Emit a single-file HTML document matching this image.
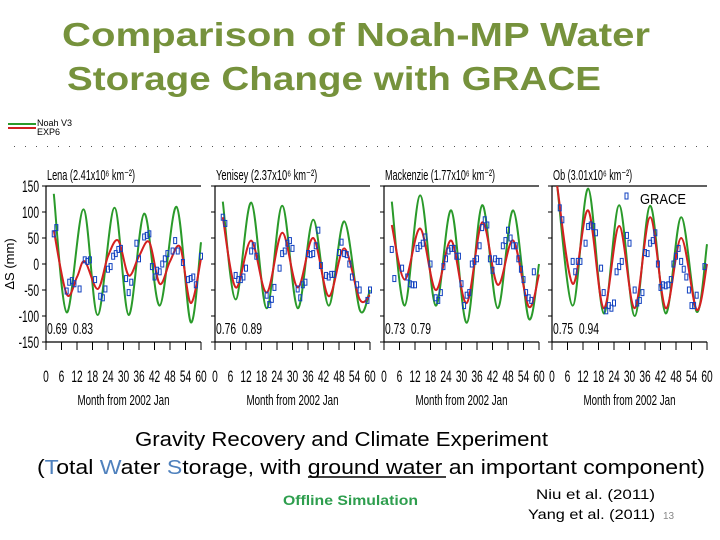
<!DOCTYPE html>
<html><head><meta charset="utf-8"><style>
html,body{margin:0;padding:0;background:#fff;width:720px;height:540px;overflow:hidden}
svg{display:block}
</style></head><body>
<svg id="s" width="720" height="540" xmlns="http://www.w3.org/2000/svg">
<g font-family="'Liberation Sans',sans-serif" font-weight="bold" fill="#76923c" font-size="33">
<text x="62" y="46" textLength="588" lengthAdjust="spacingAndGlyphs">Comparison of Noah-MP Water</text>
<text x="67" y="90" textLength="534" lengthAdjust="spacingAndGlyphs">Storage Change with GRACE</text>
</g>
<g>
<line x1="8" y1="124" x2="36" y2="124" stroke="#2a9a2a" stroke-width="2"/>
<line x1="8" y1="128" x2="36" y2="128" stroke="#d02020" stroke-width="2"/>
<text x="37" y="126" font-family="'Liberation Sans',sans-serif" font-size="9">Noah V3</text>
<text x="37" y="135" font-family="'Liberation Sans',sans-serif" font-size="9">EXP6</text>
</g>
<g id="charts"></g>
<g font-family="'Liberation Sans',sans-serif">
<text x="135" y="446" font-size="20" textLength="413" lengthAdjust="spacingAndGlyphs">Gravity Recovery and Climate Experiment</text>
<text x="37" y="474" font-size="20" textLength="668" lengthAdjust="spacingAndGlyphs">(<tspan fill="#4f81bd">T</tspan>otal <tspan fill="#4f81bd">W</tspan>ater <tspan fill="#4f81bd">S</tspan>torage, with ground water an important component)</text>
<line x1="308" y1="477" x2="446" y2="477" stroke="#000" stroke-width="1.5"/>
<text x="283" y="505" font-size="14" font-weight="bold" fill="#2e9e4e" textLength="135" lengthAdjust="spacingAndGlyphs">Offline Simulation</text>
<text x="536" y="499" font-size="14" textLength="119" lengthAdjust="spacingAndGlyphs">Niu et al. (2011)</text>
<text x="528" y="519" font-size="14" textLength="127" lengthAdjust="spacingAndGlyphs">Yang et al. (2011)</text>
<text x="663" y="519" font-size="10" fill="#888">13</text>
</g>
</svg>
<script>
const basinNames = ["Lena (2.41x10⁶ km⁻²)","Yenisey (2.37x10⁶ km⁻²)","Mackenzie (1.77x10⁶ km⁻²)","Ob (3.01x10⁶ km⁻²)"];
const corrLabels = ["0.69  0.83","0.76  0.89","0.73  0.79","0.75  0.94"];
const yTicks = [150,100,50,0,-50,-100,-150];
const xTicks = [0,6,12,18,24,30,36,42,48,54,60];
const noahMonths = [[3,8,14.5,20,26.5,32,38,44,50.5,56,60],[3,8,14,20,26,32,38,44,50,56,60],[3,8,14,20,26,32,38,44,50,56,60],[2,8,14,20,26,32,38,44,50,56,60]];
const noahVals = [[135,-93,105,-98,108,-98,97,-80,110,-112,42],[120,-68,118,-85,112,-85,85,-80,82,-88,-50],[120,-80,132,-80,103,-113,113,-85,103,-105,0],[150,-80,145,-95,113,-100,112,-95,90,-92,38]];
const expMonths = [[3,8,12,15,20,24,28,32,36,40,44,48,52,56,60],[3,8,14,20,26,32,38,44,50,56,60],[3,8,14,20,26,32,38,44,50,56,60],[2,8,14,20,26,32,38,44,50,56,60]];
const expVals = [[65,-58,-25,5,-48,15,45,-22,15,42,-38,5,32,-75,10],[90,-45,45,-55,60,-45,50,-62,30,-68,-60],[75,-30,68,-50,45,-75,80,-40,45,-82,-20],[150,-38,103,-85,73,-85,90,-85,50,-88,0]];
const graceMonths = [
[3,4,8,9,10,11,13,15,16,17,19,21,22,23,24,25,26,27,28,29,31,32,33,35,36,38,39,40,41,42,43,44,45,46,47,49,50,51,53,55,56,57,58,60],
[3,4,8,9,10,11,12,14,15,16,20,21,22,23,25,26,27,28,29,30,32,33,34,35,36,37,38,39,40,41,43,44,45,46,48,49,50,51,52,53,55,56,59,60],
[3,4,7,9,10,11,12,13,14,15,16,18,20,21,22,23,24,25,26,27,28,29,30,31,32,33,34,35,36,37,38,39,40,41,42,43,44,45,46,47,48,49,50,51,52,53,54,55,56,57,58],
[3,4,8,9,10,11,13,14,15,16,17,19,20,21,22,23,24,25,26,27,29,30,32,33,34,35,36,37,38,39,40,41,42,43,44,45,46,47,48,49,50,51,52,53,54,55,56,59]];
const graceVals = [
[58,70,-52,-35,-32,-38,-48,8,5,8,-30,-62,-65,-48,-10,-5,15,20,28,30,-28,-55,-35,40,10,52,55,58,-5,-25,-12,-15,0,10,20,25,45,25,3,-30,-28,-25,-40,15],
[90,78,-22,-30,-30,-25,-8,25,35,15,-60,-78,-68,-45,-8,20,25,40,45,30,-48,-65,-40,-35,20,18,20,35,65,-3,-22,-25,-20,-20,22,42,20,18,0,-25,-40,-50,-70,-50],
[28,-28,-8,-25,-38,-40,-40,30,35,40,52,0,-65,-70,-55,-5,10,25,30,30,15,15,-38,-80,-60,-55,0,5,10,35,70,85,75,10,-12,10,5,5,35,45,65,50,35,35,10,-10,-30,-55,-65,-70,-15],
[108,85,5,-15,5,5,40,72,75,72,60,-8,-55,-90,-80,-85,-75,-15,-5,5,55,40,-50,-75,-70,-55,22,20,40,45,60,0,-45,-40,-42,-40,-30,0,15,30,5,-10,-25,-50,-80,-80,-60,-5]];

const NS="http://www.w3.org/2000/svg";
const svgRoot=document.getElementById('charts');
const panelLeft=[46,215,384,552], panelW=155, pTop=186, pBot=342;
function el(t,a,p){const e=document.createElementNS(NS,t);for(const k in a)e.setAttribute(k,a[k]);(p||svgRoot).appendChild(e);return e;}
function yS(v){return pTop+(150-v)/300*(pBot-pTop);}
function path(xs,ys,xf){
  const pts=xs.map((m,i)=>[xf(m),yS(ys[i])]);
  let d="M"+pts[0][0].toFixed(1)+","+pts[0][1].toFixed(1);
  for(let i=0;i<pts.length-1;i++){
    const p0=pts[Math.max(i-1,0)],p1=pts[i],p2=pts[i+1],p3=pts[Math.min(i+2,pts.length-1)];
    const c1=[p1[0]+(p2[0]-p0[0])/6,p1[1]+(p2[1]-p0[1])/6],c2=[p2[0]-(p3[0]-p1[0])/6,p2[1]-(p3[1]-p1[1])/6];
    d+=` C${c1[0].toFixed(1)},${c1[1].toFixed(1)} ${c2[0].toFixed(1)},${c2[1].toFixed(1)} ${p2[0].toFixed(1)},${p2[1].toFixed(1)}`;
  }
  return d;
}
for(let x=14;x<715;x+=11){const d=el('rect',{x:x,y:146,width:1,height:1,fill:'#555'});

}
const yl=el('text',{x:0,y:0,'font-family':"'Liberation Sans',sans-serif",'font-size':'13',transform:'translate(14,264) rotate(-90)','text-anchor':'middle'});
yl.textContent="ΔS (mm)";


yTicks.forEach(v=>{const t=el('text',{x:39,y:yS(v)+6,'font-family':"'Liberation Sans',sans-serif",'font-size':'17','text-anchor':'end',transform:`translate(39,0) scale(0.6,1) translate(-39,0)`});
t.textContent=v;

});
basinNames.forEach((nm,b)=>{
  const L=panelLeft[b], xf=m=>L+m/60*panelW;
  const g=el('g',{});
  
  
  const cp=el('clipPath',{id:'cp'+b},g);el('rect',{x:L,y:pTop,width:panelW+4,height:pBot-pTop},cp);
  el('polyline',{points:`${L+panelW},${pTop} ${L},${pTop} ${L},${pBot} ${L+panelW},${pBot}`,fill:'none',stroke:'#000','stroke-width':'1.2'},g);
  yTicks.forEach(v=>el('line',{x1:L-4,x2:L,y1:yS(v),y2:yS(v),stroke:'#000'},g));
  xTicks.forEach(m=>{el('line',{x1:xf(m),x2:xf(m),y1:pBot,y2:pBot+8,stroke:'#000'},g);
    const t=el('text',{x:xf(m),y:382,'font-family':"'Liberation Sans',sans-serif",'font-size':'17','text-anchor':'middle',transform:`translate(${xf(m)},0) scale(0.6,1) translate(${-xf(m)},0)`},g);
    t.textContent=m;
    
    });
  const xt=el('text',{x:L+panelW/2,y:405,'font-family':"'Liberation Sans',sans-serif",'font-size':'15','text-anchor':'middle',textLength:'92',lengthAdjust:'spacingAndGlyphs'},g);
  xt.textContent="Month from 2002 Jan";
  
  
  const tt=el('text',{x:L+1,y:180,'font-family':"'Liberation Sans',sans-serif",'font-size':'15',textLength:String(nm.length*4.4),lengthAdjust:'spacingAndGlyphs'},g);
  tt.textContent=nm;
  
  
  const cl=el('text',{x:L+1,y:334,'font-family':"'Liberation Sans',sans-serif",'font-size':'16',textLength:'46',lengthAdjust:'spacingAndGlyphs',style:'white-space:pre'},g);
  cl.textContent=corrLabels[b];
  
  
  const cg=el('g',{'clip-path':`url(#cp${b})`},g);
  const gn=el('path',{d:path(noahMonths[b],noahVals[b],xf),fill:'none',stroke:'#2a9a2a','stroke-width':'2'},cg);
  
  
  const rd=el('path',{d:path(expMonths[b],expVals[b],xf),fill:'none',stroke:'#d42020','stroke-width':'2'},cg);
  
  
  graceMonths[b].forEach((m,i)=>{const r=el('rect',{x:xf(m)-1.5,y:yS(graceVals[b][i])-3,width:3,height:6,fill:'none',stroke:'#1040c0','stroke-width':'1'},cg);
    
    });
});
const gl=el('rect',{x:625,y:193,width:3,height:6,fill:'none',stroke:'#1040c0'});


const gt=el('text',{x:640,y:204,'font-family':"'Liberation Sans',sans-serif",'font-size':'15',textLength:'46',lengthAdjust:'spacingAndGlyphs'});
gt.textContent="GRACE";


</script>
</body></html>
